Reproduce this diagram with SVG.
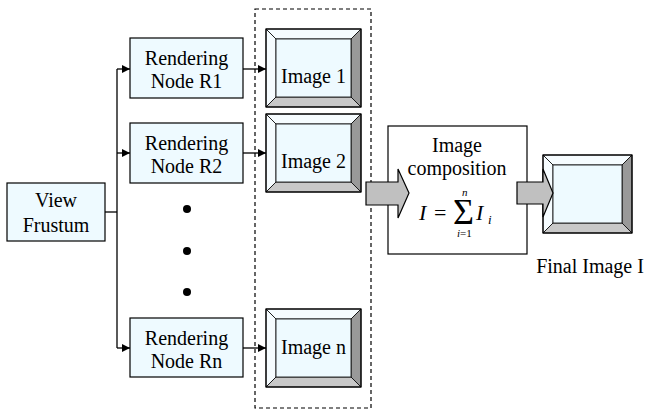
<svg xmlns="http://www.w3.org/2000/svg" width="645" height="414" viewBox="0 0 645 414">
  <defs>
    <style>
      .box { fill: #eefaff; stroke: #000; stroke-width: 1.2; }
      .plain { fill: #fff; stroke: #000; stroke-width: 1.2; }
      .t { font-family: "Liberation Serif", "DejaVu Serif", serif; font-size: 20px; fill: #000; text-anchor: middle; }
      .m { font-family: "Liberation Serif", "DejaVu Serif", serif; fill: #000; }
      .line { fill: none; stroke: #000; stroke-width: 1.3; }
      .dash { fill: none; stroke: #000; stroke-width: 1.2; stroke-dasharray: 4 3; }
      .big { fill: #c0c0c0; stroke: #000; stroke-width: 1.2; stroke-linejoin: miter; }
      .face { fill: #eefaff; }
      .lt { fill: #f6fcff; stroke: #000; stroke-width: 0.8; }
      .rt { fill: #999; stroke: #000; stroke-width: 0.8; }
      .bt { fill: #c8c8c8; stroke: #000; stroke-width: 0.8; }
    </style>
    <marker id="ah" viewBox="0 0 10 10" refX="10" refY="5" markerWidth="8" markerHeight="8" markerUnits="userSpaceOnUse" orient="auto">
      <path d="M0,0 L10,5 L0,10 z" fill="#000"/>
    </marker>
    <!-- bevelled picture frame, 95 x 78, bevel 10 -->
    <g id="frame">
      <rect x="0" y="0" width="95" height="78" class="face"/>
      <polygon class="lt" points="0,0 95,0 85,10 10,10"/>
      <polygon class="lt" points="0,0 10,10 10,68 0,78"/>
      <polygon class="rt" points="95,0 95,78 85,68 85,10"/>
      <polygon class="bt" points="0,78 10,68 85,68 95,78"/>
      <rect x="10" y="10" width="75" height="58" fill="#eefaff" stroke="#000" stroke-width="0.8"/>
      <rect x="0" y="0" width="95" height="78" fill="none" stroke="#000" stroke-width="1.2"/>
    </g>
  </defs>

  <rect width="645" height="414" fill="#fff"/>

  <!-- dashed enclosure around the partial images -->
  <rect class="dash" x="255" y="9" width="116" height="399"/>

  <g id="view-frustum">
    <rect class="box" x="7" y="183" width="98" height="58"/>
    <text class="t" x="56" y="207">View</text>
    <text class="t" x="56" y="232">Frustum</text>
  </g>

  <g id="node-r1">
    <rect class="box" x="130" y="38" width="113" height="60"/>
    <text class="t" x="186.5" y="65">Rendering</text>
    <text class="t" x="186.5" y="88">Node R1</text>
  </g>

  <g id="node-r2">
    <rect class="box" x="130" y="123" width="113" height="60"/>
    <text class="t" x="186.5" y="150">Rendering</text>
    <text class="t" x="186.5" y="173">Node R2</text>
  </g>

  <g id="ellipsis">
    <circle cx="187" cy="209" r="4" fill="#000"/>
    <circle cx="187" cy="251" r="4" fill="#000"/>
    <circle cx="187" cy="292" r="4" fill="#000"/>
  </g>

  <g id="node-rn">
    <rect class="box" x="130" y="318" width="113" height="59"/>
    <text class="t" x="186.5" y="345">Rendering</text>
    <text class="t" x="186.5" y="368">Node Rn</text>
  </g>

  <g id="image-1">
    <use href="#frame" x="266" y="29"/>
    <text class="t" x="313.5" y="83">Image 1</text>
  </g>

  <g id="image-2">
    <use href="#frame" x="266" y="114"/>
    <text class="t" x="313.5" y="168">Image 2</text>
  </g>

  <g id="image-n">
    <use href="#frame" x="266" y="309"/>
    <text class="t" x="313.5" y="354">Image n</text>
  </g>

  <g id="composition">
    <rect class="plain" x="388" y="126" width="139" height="128"/>
    <text class="t" x="457" y="152">Image</text>
    <text class="t" x="457" y="175">composition</text>
    <text class="m" x="419" y="220" font-size="22" font-style="italic">I</text>
    <text class="m" x="434" y="220" font-size="22">=</text>
    <text class="m" x="453" y="224" font-size="36">Σ</text>
    <text class="m" x="462" y="196" font-size="11" font-style="italic">n</text>
    <text class="m" x="457" y="237" font-size="11"><tspan font-style="italic">i</tspan>=1</text>
    <text class="m" x="476" y="220" font-size="22" font-style="italic">I</text>
    <text class="m" x="488" y="224" font-size="13" font-style="italic">i</text>
  </g>

  <g id="final-image">
    <rect x="543" y="155" width="89" height="78" class="face"/>
    <polygon class="lt" points="543,155 632,155 622,165 553,165"/>
    <polygon class="lt" points="543,155 553,165 553,223 543,233"/>
    <polygon class="rt" points="632,155 632,233 622,223 622,165"/>
    <polygon class="bt" points="543,233 553,223 622,223 632,233"/>
    <rect x="553" y="165" width="69" height="58" fill="#eefaff" stroke="#000" stroke-width="0.8"/>
    <rect x="543" y="155" width="89" height="78" fill="none" stroke="#000" stroke-width="1.2"/>
    <text class="t" x="590" y="273">Final Image I</text>
  </g>

  <g id="connectors">
    <polyline class="line" points="105,212 117,212"/>
    <line class="line" x1="117" y1="69" x2="117" y2="348"/>
    <line class="line" x1="117" y1="69" x2="130" y2="69" marker-end="url(#ah)"/>
    <line class="line" x1="117" y1="153" x2="130" y2="153" marker-end="url(#ah)"/>
    <line class="line" x1="117" y1="348" x2="130" y2="348" marker-end="url(#ah)"/>
    <line class="line" x1="243" y1="69" x2="266" y2="69" marker-end="url(#ah)"/>
    <line class="line" x1="243" y1="153" x2="266" y2="153" marker-end="url(#ah)"/>
    <line class="line" x1="243" y1="348" x2="266" y2="348" marker-end="url(#ah)"/>
    <!-- block arrows into and out of the composition step -->
    <polygon class="big" points="366,182 398,182 398,169 409,193 398,218 398,205 366,205"/>
    <polygon class="big" points="517,182 543,182 543,169 553,193 543,217 543,204 517,204"/>
  </g>
</svg>
